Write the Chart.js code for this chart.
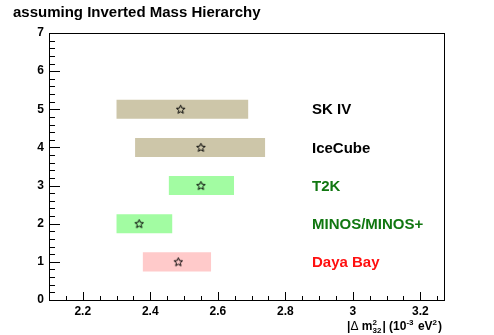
<!DOCTYPE html>
<html>
<head>
<meta charset="utf-8">
<script src="https://cdn.jsdelivr.net/npm/chart.js@4.4.1/dist/chart.umd.min.js"></script>
<style>
  html, body { margin: 0; padding: 0; background: #fff; }
  #wrap { width: 494px; height: 335px; }
</style>
</head>
<body>
<div id="wrap"><canvas id="chart" width="494" height="335"></canvas></div>
<script>
const experiments = ["SK IV", "IceCube", "T2K", "MINOS/MINOS+", "Daya Bay"];
const rowPos = [5, 4, 3, 2, 1];
const lowEdge = [2.30, 2.355, 2.455, 2.30, 2.378];
const highEdge = [2.69, 2.74, 2.648, 2.465, 2.58];
const bestFit = [2.49, 2.55, 2.55, 2.367, 2.483];
const barColors = ["#cdc6a9", "#cdc6a9", "#a2fca2", "#a2fca2", "#ffcaca"];
const labelColors = ["#000000", "#000000", "#117711", "#117711", "#ff1010"];
const xTickValues = [2.2, 2.4, 2.6, 2.8, 3.0, 3.2];
const yTickValues = [0, 1, 2, 3, 4, 5, 6, 7];

const FONT = '"Liberation Sans", Arial, Helvetica, sans-serif';

// open five-pointed star used as marker
function makeStar() {
  const c = document.createElement("canvas");
  c.width = 11; c.height = 11;
  const g = c.getContext("2d");
  g.strokeStyle = "#000";
  g.lineWidth = 1;
  g.beginPath();
  for (let i = 0; i < 10; i++) {
    const r = i % 2 === 0 ? 4.5 : 2;
    const a = -Math.PI / 2 + i * Math.PI / 5;
    const px = 5.5 + r * Math.cos(a), py = 5.8 + r * Math.sin(a);
    if (i === 0) g.moveTo(px, py); else g.lineTo(px, py);
  }
  g.closePath();
  g.stroke();
  return c;
}

const framePlugin = {
  id: "frame",
  afterDraw(chart) {
    const { ctx, chartArea: a, scales } = chart;
    const xs = scales.x, ys = scales.y;
    ctx.save();
    ctx.strokeStyle = "#000";
    ctx.lineWidth = 1;
    ctx.strokeRect(a.left + 0.5, a.top + 0.5, a.right - a.left, a.bottom - a.top);

    // axis ticks, drawn inward like the original
    ctx.beginPath();
    for (let v = 2.15; v <= 3.26; v += 0.05) {
      const major = Math.abs(v * 5 - Math.round(v * 5)) < 1e-6;
      const px = Math.round(xs.getPixelForValue(v)) + 0.5;
      ctx.moveTo(px, a.bottom);
      ctx.lineTo(px, a.bottom - (major ? 8 : 4));
    }
    for (let v = 0; v <= 7.001; v += 0.2) {
      const major = Math.abs(v - Math.round(v)) < 1e-6;
      const py = Math.round(ys.getPixelForValue(v)) + 0.5;
      ctx.moveTo(a.left, py);
      ctx.lineTo(a.left + (major ? 11 : 6), py);
    }
    ctx.stroke();

    // title
    ctx.fillStyle = "#000";
    ctx.font = "bold 15px " + FONT;
    ctx.textBaseline = "alphabetic";
    ctx.textAlign = "left";
    ctx.fillText("assuming Inverted Mass Hierarchy", 13, 17);

    // experiment labels
    ctx.font = "bold 15px " + FONT;
    ctx.textBaseline = "middle";
    experiments.forEach((name, i) => {
      ctx.fillStyle = labelColors[i];
      ctx.fillText(name, 312, ys.getPixelForValue(rowPos[i]) + 1);
    });

    // x axis title with super/subscripts
    const parts = [
      { t: "|", f: "bold 12px " + FONT },
      { t: "\u0394", f: "12px " + FONT },
      { t: " m", f: "bold 12px " + FONT },
      { t: "2", f: "bold 8px " + FONT, dy: -5, sub: "32" },
      { t: "| (10", f: "bold 12px " + FONT },
      { t: "-3", f: "bold 8px " + FONT, dy: -5 },
      { t: " eV", f: "bold 12px " + FONT },
      { t: "2", f: "bold 8px " + FONT, dy: -5 },
      { t: ")", f: "bold 12px " + FONT },
    ];
    let total = 0;
    parts.forEach(p => {
      ctx.font = p.f;
      let w = ctx.measureText(p.t).width;
      if (p.sub) w = Math.max(w, ctx.measureText(p.sub).width);
      p.w = w + (p.dy ? 1 : 0);
      total += p.w;
    });
    let x = 442 - total;
    const base = 330;
    ctx.textBaseline = "alphabetic";
    ctx.fillStyle = "#000";
    parts.forEach(p => {
      ctx.font = p.f;
      ctx.fillText(p.t, x, base + (p.dy || 0));
      if (p.sub) ctx.fillText(p.sub, x, base + 3);
      x += p.w;
    });
    ctx.restore();
  }
};

new Chart(document.getElementById("chart").getContext("2d"), {
  data: {
    datasets: [
      {
        type: "bar",
        indexAxis: "y",
        data: rowPos.map((y, i) => ({ x: [lowEdge[i], highEdge[i]], y })),
        backgroundColor: barColors,
        borderWidth: 0,
        barPercentage: 0.5,
        categoryPercentage: 1,
        order: 2,
      },
      {
        type: "scatter",
        data: rowPos.map((y, i) => ({ x: bestFit[i], y })),
        pointStyle: makeStar(),
        pointRadius: 4,
        order: 1,
      },
    ],
  },
  options: {
    responsive: false,
    animation: false,
    events: [],
    layout: { padding: { top: 33, right: 50, left: 0, bottom: 0 } },
    plugins: { legend: { display: false }, tooltip: { enabled: false } },
    scales: {
      x: {
        type: "linear",
        min: 2.1,
        max: 3.27,
        offset: false,
        grid: { display: false, drawTicks: false },
        border: { display: false },
        afterBuildTicks: (s) => { s.ticks = xTickValues.map(v => ({ value: v })); },
        afterFit: (s) => { s.height = 35; },
        ticks: {
          padding: 4,
          color: "#000",
          font: { family: FONT, size: 12, weight: "bold" },
          callback: (v) => String(+Number(v).toFixed(1)),
        },
      },
      y: {
        type: "linear",
        min: 0,
        max: 7,
        offset: false,
        grid: { display: false, drawTicks: false },
        border: { display: false },
        afterBuildTicks: (s) => { s.ticks = yTickValues.map(v => ({ value: v })); },
        afterFit: (s) => { s.width = 49; },
        ticks: {
          padding: 5,
          color: "#000",
          font: { family: FONT, size: 12, weight: "bold" },
          callback: (v) => String(v),
        },
      },
    },
  },
  plugins: [framePlugin],
});
</script>
</body>
</html>
